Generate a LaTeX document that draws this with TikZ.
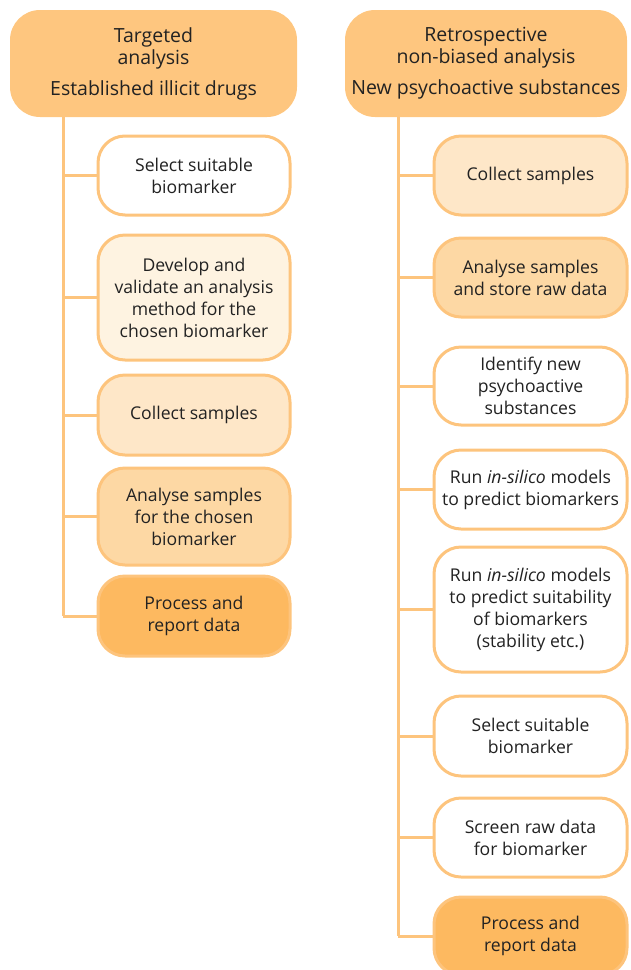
\documentclass[tikz,border=0pt]{standalone}
\usepackage{fontspec}
\setmainfont{Open Sans}
\definecolor{lineC}{HTML}{FDC47D}
\definecolor{headC}{HTML}{FEC67F}
\definecolor{paleC}{HTML}{FEF3E1}
\definecolor{lightC}{HTML}{FEE7C8}
\definecolor{midC}{HTML}{FDD8A4}
\definecolor{darkC}{HTML}{FDB960}
\definecolor{txtC}{HTML}{222222}
\tikzset{
  stepbox/.style={draw=lineC, line width=3pt, rounded corners=27pt, align=center,
    inner sep=0pt, outer sep=0pt, text=txtC,
    font=\fontsize{17.6}{22}\selectfont},
  headbox/.style={stepbox, fill=headC, rounded corners=30pt, draw=none,
    font=\fontsize{19.5}{22}\selectfont},
  conn/.style={draw=lineC, line width=3pt}
}
\begin{document}
\begin{tikzpicture}[x=1pt,y=-1pt]
\useasboundingbox (0,0) rectangle (630,970);
% left column
\node[headbox, minimum width=287pt, minimum height=107pt] (lh) at (153.5,63.5)
  {Targeted\\analysis\\[9pt]Established illicit drugs};
\node[stepbox, fill=white, minimum width=192pt, minimum height=79pt] (l1) at (194,175.5)
  {Select suitable\\biomarker};
\node[stepbox, fill=paleC, minimum width=192pt, minimum height=125pt] (l2) at (194,297.5)
  {Develop and\\validate an analysis\\method for the\\chosen biomarker};
\node[stepbox, fill=lightC, minimum width=192pt, minimum height=80pt] (l3) at (194,415)
  {Collect samples};
\node[stepbox, fill=midC, minimum width=192pt, minimum height=97pt] (l4) at (194,516.5)
  {Analyse samples\\for the chosen\\biomarker};
\node[stepbox, fill=darkC, minimum width=192pt, minimum height=80pt] (l5) at (194,616)
  {Process and\\report data};
\coordinate (lt) at (63,0);
\draw[conn] (lh.south -| lt) -- (lt |- l5.west);
\foreach \n in {l1,l2,l3,l4,l5} \draw[conn] (lt |- \n.west) -- (\n.west);
% right column
\node[headbox, minimum width=282pt, minimum height=107pt] (rh) at (486,63.5)
  {Retrospective\\non-biased analysis\\[9pt]New psychoactive substances};
\node[stepbox, fill=lightC, minimum width=193pt, minimum height=79pt] (r1) at (530.5,175.5)
  {Collect samples};
\node[stepbox, fill=midC, minimum width=193pt, minimum height=79pt] (r2) at (530.5,277.5)
  {Analyse samples\\and store raw data};
\node[stepbox, fill=white, minimum width=193pt, minimum height=78pt] (r3) at (530.5,386)
  {Identify new\\psychoactive\\substances};
\node[stepbox, fill=white, minimum width=193pt, minimum height=79pt] (r4) at (530.5,489.5)
  {Run \textit{in-silico} models\\to predict biomarkers};
\node[stepbox, fill=white, minimum width=193pt, minimum height=125pt] (r5) at (530.5,609.5)
  {Run \textit{in-silico} models\\to predict suitability\\of biomarkers\\(stability etc.)};
\node[stepbox, fill=white, minimum width=193pt, minimum height=80pt] (r6) at (530.5,736)
  {Select suitable\\biomarker};
\node[stepbox, fill=white, minimum width=193pt, minimum height=79pt] (r7) at (530.5,837.5)
  {Screen raw data\\for biomarker};
\node[stepbox, fill=darkC, minimum width=193pt, minimum height=78pt] (r8) at (530.5,936)
  {Process and\\report data};
\coordinate (rt) at (398,0);
\draw[conn] (rh.south -| rt) -- (rt |- r8.west);
\foreach \n in {r1,r2,r3,r4,r5,r6,r7,r8} \draw[conn] (rt |- \n.west) -- (\n.west);
\end{tikzpicture}
\end{document}
